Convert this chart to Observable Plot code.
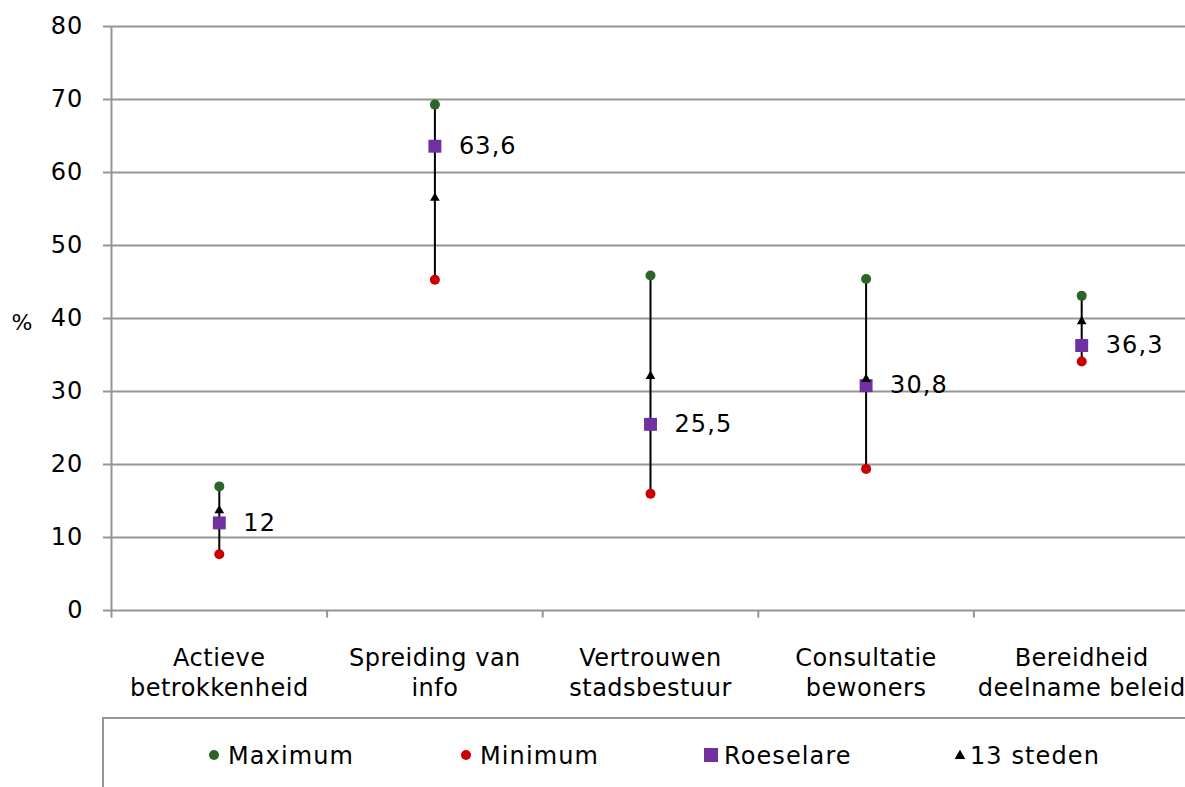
<!DOCTYPE html>
<html>
<head>
<meta charset="utf-8">
<script src="https://cdn.jsdelivr.net/npm/d3@7"></script>
<script src="https://cdn.jsdelivr.net/npm/@observablehq/plot@0.6"></script>
<style>
  html, body { margin: 0; padding: 0; background: #fff; }
  #wrap { position: relative; width: 1185px; height: 787px; overflow: hidden; font-family: "DejaVu Sans", sans-serif; }
  #wrap svg { display: block; }
  .xlab { letter-spacing: 0.5px; }
</style>
</head>
<body>
<div id="wrap"></div>
<script>
// ---- data ----
const categories = ["Actieve\nbetrokkenheid", "Spreiding van\ninfo", "Vertrouwen\nstadsbestuur", "Consultatie\nbewoners", "Bereidheid\ndeelname beleid"];
const maximum   = [17.0, 69.3, 45.9, 45.4, 43.1];
const minimum   = [7.7, 45.3, 16.0, 19.4, 34.1];
const roeselare = [12, 63.6, 25.5, 30.8, 36.3];
const steden    = [13.7, 56.5, 32.1, 31.7, 39.6];
const yTicks = [0, 10, 20, 30, 40, 50, 60, 70, 80];
const seriesNames = ["Maximum", "Minimum", "Roeselare", "13 steden"];
const seriesColors = ["#2b6528", "#cc0000", "#7030a0", "#000000"];

const rows = categories.map((c, i) => ({
  pos: i + 0.5, cat: c, max: maximum[i], min: minimum[i], roe: roeselare[i], st: steden[i]
}));
const boundaries = d3.range(categories.length + 1);
const fmt = v => String(v).replace(".", ",");

const grey = "#959595";

const chart = Plot.plot({
  width: 1185,
  height: 712,
  marginTop: 26,
  marginBottom: 102,
  marginLeft: 111,
  marginRight: -4,
  style: { fontFamily: "DejaVu Sans", fontSize: "24px", letterSpacing: "1.1px", color: "#000", background: "#fff", overflow: "visible" },
  x: { type: "linear", domain: [0, categories.length], axis: null },
  y: { domain: [0, 80] },
  marks: [
    Plot.gridY(yTicks, { stroke: grey, strokeOpacity: 1, strokeWidth: 2 }),
    Plot.axisY(yTicks, { tickSize: 8, tickPadding: 20, stroke: grey, strokeWidth: 2, fill: "#000", fontSize: 24, label: null }),
    Plot.ruleX([0], { stroke: grey, strokeWidth: 2 }),
    Plot.ruleX(boundaries, { y1: 0, y2: -1.05, stroke: grey, strokeWidth: 2 }),
    Plot.text(rows, { x: "pos", text: "cat", frameAnchor: "bottom", lineAnchor: "top", dy: 34, lineHeight: 1.25, fontSize: 24, fill: "#000", className: "xlab" }),
    Plot.text(["%"], { frameAnchor: "left", dx: -100, dy: 4, fontSize: 22, fill: "#000" }),
    Plot.ruleX(rows, { x: "pos", y1: "min", y2: "max", stroke: "#000", strokeWidth: 2 }),
    Plot.dot(rows, { x: "pos", y: "max", r: 5, fill: seriesColors[0] }),
    Plot.dot(rows, { x: "pos", y: "min", r: 5, fill: seriesColors[1] }),
    Plot.dot(rows, { x: "pos", y: "roe", symbol: "square", r: 7.3, fill: seriesColors[2] }),
    Plot.dot(rows, { x: "pos", y: "st", symbol: "triangle", r: 3.6, fill: seriesColors[3] }),
    Plot.text(rows, { x: "pos", y: "roe", text: d => fmt(d.roe), dx: 24, textAnchor: "start", fontSize: 24, fill: "#000" })
  ]
});
document.getElementById("wrap").appendChild(chart);
d3.select(chart).selectAll("g.xlab, g[aria-label='text'].xlab").style("letter-spacing", "0.5px");

// ---- legend ----
const legendX = [214, 466, 711, 960];
const legendTextX = [228, 480, 724, 970];
const leg = d3.select("#wrap").append("svg")
  .attr("width", 1185).attr("height", 75)
  .style("font-family", "DejaVu Sans").style("font-size", "24px").style("letter-spacing", "1.1px");
leg.append("line").attr("x1", 102).attr("x2", 1185).attr("y1", 6).attr("y2", 6).attr("stroke", grey).attr("stroke-width", 2);
leg.append("line").attr("x1", 103).attr("x2", 103).attr("y1", 5).attr("y2", 75).attr("stroke", grey).attr("stroke-width", 2);
const symbols = [d3.symbolCircle, d3.symbolCircle, d3.symbolSquare, d3.symbolTriangle];
const sizes = [Math.PI * 25, Math.PI * 25, 14 * 14, 50];
seriesNames.forEach((name, i) => {
  leg.append("path")
    .attr("d", d3.symbol(symbols[i], sizes[i])())
    .attr("transform", `translate(${legendX[i]},${i === 3 ? 44 : 43})`)
    .attr("fill", seriesColors[i]);
  leg.append("text").attr("x", legendTextX[i]).attr("y", 52).attr("fill", "#000").text(name);
});
</script>
</body>
</html>
